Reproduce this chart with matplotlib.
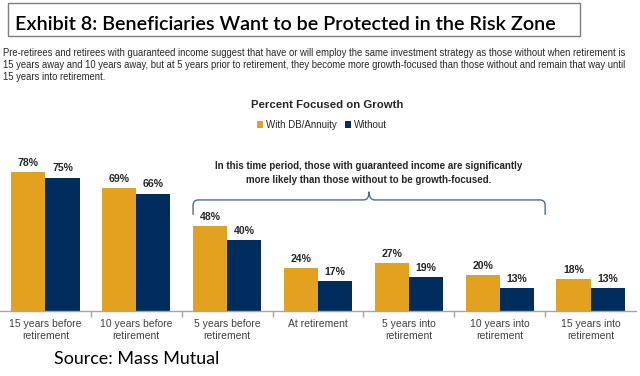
import matplotlib
matplotlib.use("Agg")
import matplotlib.pyplot as plt
from matplotlib.patches import Rectangle, PathPatch
from matplotlib.path import Path

categories = [
    "15 years before\nretirement",
    "10 years before\nretirement",
    "5 years before\nretirement",
    "At retirement",
    "5 years into\nretirement",
    "10 years into\nretirement",
    "15 years into\nretirement",
]
with_db = [78, 69, 48, 24, 27, 20, 18]
without = [75, 66, 40, 17, 19, 13, 13]
series_names = ["With DB/Annuity", "Without"]

ORANGE = "#E2A11F"
NAVY = "#002D5E"
BRACE = "#4D6B97"
TEXT = "#262626"

SANS = ["Liberation Sans", "DejaVu Sans"]
TITLE_FONT = ["Lato", "DejaVu Sans"]

fig = plt.figure(figsize=(6.4, 3.76), dpi=100)
W, H = 640, 376


def fx(px):
    return px / W


def fy(py):
    return 1 - py / H


# title box
fig.patches.append(Rectangle((fx(8), fy(36)), fx(572), 33 / H, transform=fig.transFigure,
                             fill=False, edgecolor="#7F7F7F", linewidth=1.0))
fig.text(fx(15), fy(30), "Exhibit 8: Beneficiaries Want to be Protected in the Risk Zone",
         family=TITLE_FONT, fontsize=14.2, fontweight="semibold", color="black",
         va="baseline", ha="left")

intro = ("Pre-retirees and retirees with guaranteed income suggest that have or will employ the same investment strategy as those without when retirement is\n"
         "15 years away and 10 years away, but at 5 years prior to retirement, they become more growth-focused than those without and remain that way until\n"
         "15 years into retirement.")
fig.text(fx(3), fy(48.5), intro, family=SANS, fontsize=6.85, color=TEXT, va="top", ha="left",
         linespacing=1.22)

fig.text(fx(327), fy(105), "Percent Focused on Growth", family=SANS, fontsize=8.2,
         fontweight="bold", color=TEXT, ha="center", va="center")

ax = fig.add_axes([0, 65 / H, 636 / W, 178 / H])
x = list(range(len(categories)))
bw = 0.375
b1 = ax.bar([i - bw / 2 for i in x], with_db, width=bw, color=ORANGE, label=series_names[0])
b2 = ax.bar([i + bw / 2 for i in x], without, width=bw, color=NAVY, label=series_names[1])

for bars in (b1, b2):
    for rect in bars:
        v = rect.get_height()
        ax.annotate(f"{v:.0f}%", (rect.get_x() + rect.get_width() / 2, v), xytext=(0, 6.5),
                    textcoords="offset points", ha="center", va="center", family=SANS,
                    fontsize=7.6, fontweight="bold", color=TEXT)

ax.set_xlim(-0.5, len(categories) - 0.5)
ax.set_ylim(0, 100)
ax.set_yticks([])
for s in ("top", "right", "left"):
    ax.spines[s].set_visible(False)
ax.spines["bottom"].set_color("#A6A6A6")
ax.spines["bottom"].set_linewidth(1.0)
ax.set_xticks(x)
ax.set_xticklabels(categories, family=SANS, fontsize=7.5, color="#404040", linespacing=1.15)
ax.tick_params(axis="x", which="major", length=0, pad=6)
ax.set_xticks([i + 0.5 for i in x[:-1]], minor=True)
ax.tick_params(axis="x", which="minor", length=4, color="#A6A6A6", width=1.0)

leg = ax.legend(loc="center", bbox_to_anchor=(fx(322), fy(125)), bbox_transform=fig.transFigure,
                ncol=2, frameon=False, handlelength=0.6, handleheight=0.6, handletextpad=0.3,
                columnspacing=0.9, prop={"family": SANS, "size": 7})
for t in leg.get_texts():
    t.set_color(TEXT)

# brace over the 5-years-before .. 10-years-into period
x0 = 2 - bw
x1 = 5.5
xm = (x0 + x1) / 2
y_end, y_h, y_tip = 54, 62.4, 67
rx, ry = 0.06, 3.0
verts = [
    (x0, y_end), (x0, y_h - ry), (x0, y_h), (x0 + rx, y_h),
    (xm - rx, y_h), (xm, y_h), (xm, y_tip),
    (xm, y_h), (xm + rx, y_h),
    (x1 - rx, y_h), (x1, y_h), (x1, y_h - ry), (x1, y_end),
]
codes = [Path.MOVETO, Path.LINETO, Path.CURVE3, Path.CURVE3,
         Path.LINETO, Path.CURVE3, Path.CURVE3,
         Path.CURVE3, Path.CURVE3,
         Path.LINETO, Path.CURVE3, Path.CURVE3, Path.LINETO]
ax.add_patch(PathPatch(Path(verts, codes), fill=False, edgecolor=BRACE, linewidth=1.0, clip_on=False))
ax.text(xm, 77.5, "In this time period, those with guaranteed income are significantly\n"
        "more likely than those without to be growth-focused.", ha="center", va="center",
        family=SANS, fontsize=7, fontweight="bold", color=TEXT, linespacing=1.45)

fig.text(fx(54), fy(359), "Source: Mass Mutual", family=TITLE_FONT, fontsize=12.9,
         color="black", ha="left", va="center")

fig.savefig("out.png", dpi=100)
